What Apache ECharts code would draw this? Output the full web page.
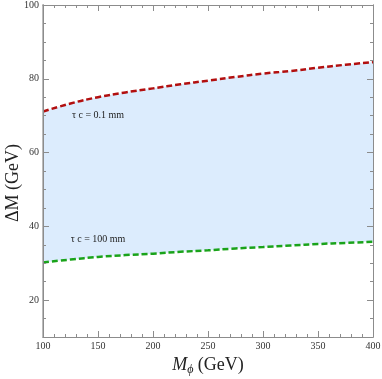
<!DOCTYPE html>
<html>
<head>
<meta charset="utf-8">
<script src="https://cdn.jsdelivr.net/npm/echarts@6/dist/echarts.min.js"></script>
<style>
html, body { margin: 0; padding: 0; background: #fff; }
#chart { width: 382px; height: 379px; }
</style>
</head>
<body>
<div id="chart"></div>
<script>
// masses (GeV)
var mPhi = [100, 125, 150, 175, 200, 225, 250, 275, 300, 325, 350, 375, 400];
// tau c = 0.1 mm contour
var upperDM = [71.1, 73.3, 75.0, 76.3, 77.4, 78.5, 79.5, 80.5, 81.4, 82.1, 83.0, 83.8, 84.5];
// tau c = 100 mm contour
var lowerDM = [30.2, 31.0, 31.7, 32.2, 32.6, 33.1, 33.5, 34.0, 34.4, 34.8, 35.2, 35.5, 35.8];
var yMajor = [20, 40, 60, 80, 100];
var labelUpper = ['τ c = 0.1 mm', 150, 70.2];
var labelLower = ['τ c = 100 mm', 150, 36.4];

var myChart = echarts.init(document.getElementById('chart'));
var serif = '"Liberation Serif", "DejaVu Serif", serif';
var axisGray = '#8c8c8c';

function pairs(ys) {
	return mPhi.map(function (x, i) { return [x, ys[i]]; });
}

function xAx(pos, labels) {
	return {
		type: 'value', position: pos, min: 100, max: 400, interval: 50, z: 10,
		axisLine: { show: true, lineStyle: { color: axisGray, width: 1 } },
		axisTick: { show: true, inside: true, length: 6, lineStyle: { color: axisGray } },
		minorTick: { show: true, splitNumber: 5, length: 3, lineStyle: { color: axisGray } },
		axisLabel: { show: labels, color: '#333', fontFamily: serif, fontSize: 10, margin: 4 },
		splitLine: { show: false }
	};
}
function yAx(pos, major, labels) {
	var a = {
		type: 'value', position: pos, min: 10, max: 100, z: 10,
		axisLine: { show: true, lineStyle: { color: axisGray, width: 1 } },
		splitLine: { show: false }
	};
	if (major) {
		a.axisTick = { show: true, inside: true, length: 6, customValues: yMajor, lineStyle: { color: axisGray } };
		a.axisLabel = { show: labels, customValues: yMajor, color: '#333', fontFamily: serif, fontSize: 10, margin: 4 };
	} else {
		a.interval = 5;
		a.axisTick = { show: true, inside: true, length: 3, lineStyle: { color: axisGray } };
		a.axisLabel = { show: false };
	}
	return a;
}

var xA = xAx('bottom', true);
xA.name = '{i|M}{s|ϕ} (GeV)';
xA.nameLocation = 'middle';
xA.nameGap = 18;
xA.nameTextStyle = {
	fontFamily: serif, fontSize: 18, color: '#222',
	rich: {
		i: { fontFamily: serif, fontStyle: 'italic', fontSize: 18, color: '#222' },
		s: { fontFamily: serif, fontStyle: 'italic', fontSize: 12, color: '#222', verticalAlign: 'bottom', padding: [9, 0, 0, 0] }
	}
};
var yA = yAx('left', true, true);
yA.axisLine.lineStyle = { color: '#bbb', width: 2 };

function tag(l) {
	return {
		symbol: 'circle', symbolSize: 0,
		label: { show: true, position: 'inside', formatter: l[0], fontFamily: serif, fontSize: 10, color: '#222' },
		data: [{ coord: [l[1], l[2]] }]
	};
}

option = {
	animation: false,
	grid: { left: 43, right: 9, top: 5, bottom: 42, outerBoundsMode: 'none', containLabel: false },
	graphic: [{
		type: 'text', x: 13, y: 183, rotation: Math.PI / 2,
		style: { text: 'ΔM (GeV)', font: '18px ' + serif, fill: '#222', align: 'center', verticalAlign: 'middle' }
	}],
	xAxis: [xA, xAx('top', false)],
	yAxis: [yA, yAx('left', false, false), yAx('right', true, false), yAx('right', false, false)],
	series: [{
		// band fill down from the upper contour
		type: 'line', data: pairs(upperDM), smooth: true, symbol: 'none',
		lineStyle: { opacity: 0 }, areaStyle: { color: '#dcecfd', opacity: 1, origin: 'start' }, z: 1
	}, {
		// blank out below the lower contour
		type: 'line', data: pairs(lowerDM), smooth: true, symbol: 'none',
		lineStyle: { opacity: 0 }, areaStyle: { color: '#ffffff', opacity: 1, origin: 'start' }, z: 1
	}, {
		name: 'upper', type: 'line', data: pairs(upperDM), smooth: true, symbol: 'none',
		lineStyle: { color: '#b20f0f', width: 2.5, type: [6, 3] }, z: 3,
		markPoint: tag(labelUpper)
	}, {
		name: 'lower', type: 'line', data: pairs(lowerDM), smooth: true, symbol: 'none',
		lineStyle: { color: '#1aa31a', width: 2.5, type: [6, 3] }, z: 3,
		markPoint: tag(labelLower)
	}]
};
myChart.setOption(option);
</script>
</body>
</html>
